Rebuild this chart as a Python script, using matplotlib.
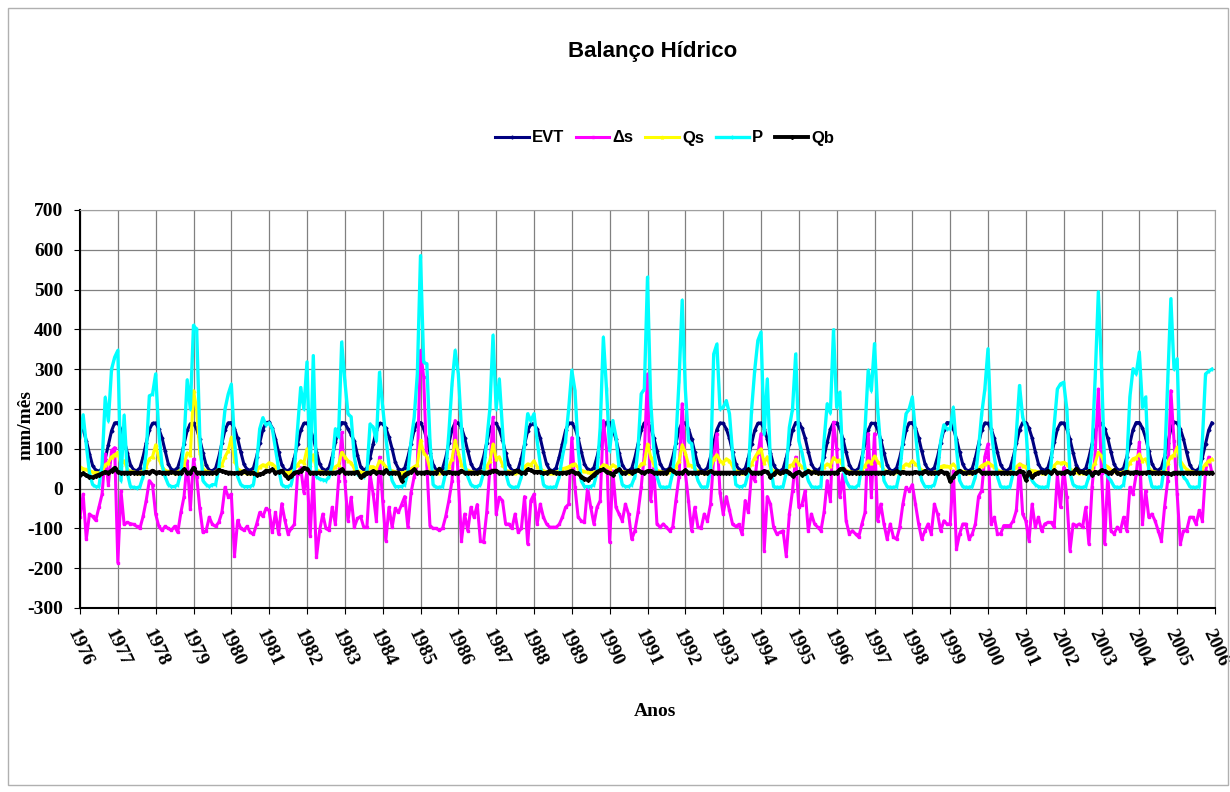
import matplotlib
matplotlib.use('Agg')
import matplotlib.pyplot as plt
from matplotlib.patches import Rectangle
import numpy as np

# valores mensais (jan..dez) de 1976 a 2005, em mm/mês
anos = list(range(1976, 2006))

evt = [
    [163, 150, 120, 88, 58, 46, 44, 50, 75, 110, 145, 165],
    [166, 148, 122, 90, 60, 47, 45, 52, 80, 115, 148, 164],
    [165, 150, 128, 95, 62, 48, 46, 53, 78, 112, 146, 163],
    [164, 149, 124, 90, 59, 46, 45, 51, 79, 114, 147, 165],
    [166, 151, 126, 92, 61, 48, 46, 52, 80, 115, 148, 166],
    [167, 152, 125, 91, 60, 47, 45, 51, 78, 112, 146, 164],
    [165, 150, 127, 93, 62, 48, 46, 53, 80, 116, 149, 166],
    [165, 150, 135, 120, 85, 55, 46, 52, 78, 112, 146, 164],
    [163, 152, 130, 100, 66, 50, 46, 52, 79, 113, 147, 165],
    [166, 151, 124, 90, 60, 47, 45, 51, 78, 114, 148, 166],
    [165, 153, 128, 94, 63, 48, 46, 53, 80, 115, 147, 164],
    [164, 149, 123, 89, 59, 46, 44, 50, 77, 111, 145, 163],
    [163, 150, 126, 92, 61, 47, 45, 52, 79, 113, 146, 164],
    [165, 152, 127, 93, 62, 48, 46, 53, 80, 116, 149, 167],
    [166, 150, 124, 90, 60, 47, 45, 51, 78, 112, 147, 165],
    [167, 153, 128, 95, 63, 49, 46, 52, 79, 114, 148, 166],
    [165, 151, 125, 91, 60, 47, 45, 52, 80, 115, 148, 165],
    [164, 150, 126, 92, 61, 48, 45, 51, 78, 113, 146, 164],
    [165, 151, 124, 90, 59, 46, 44, 50, 77, 112, 147, 166],
    [166, 152, 127, 93, 62, 48, 46, 53, 80, 116, 149, 166],
    [165, 150, 125, 91, 60, 47, 45, 51, 79, 114, 147, 164],
    [164, 149, 123, 90, 59, 46, 45, 52, 78, 112, 146, 165],
    [166, 152, 128, 94, 63, 48, 46, 53, 80, 115, 148, 166],
    [165, 151, 125, 92, 61, 47, 45, 51, 78, 113, 147, 165],
    [164, 150, 126, 91, 60, 47, 45, 52, 79, 114, 148, 166],
    [166, 152, 127, 93, 62, 48, 46, 53, 80, 116, 149, 165],
    [165, 150, 124, 90, 59, 46, 45, 51, 78, 112, 146, 164],
    [164, 151, 126, 92, 61, 48, 46, 52, 79, 114, 148, 166],
    [166, 152, 128, 94, 63, 48, 46, 53, 80, 115, 149, 167],
    [165, 150, 125, 91, 60, 47, 45, 51, 78, 113, 147, 165],
]

ds = [
    [-72, -14, -127, -64, -70, -80, -47, -14, 87, 10, 95, 103],
    [-186, -6, -90, -85, -88, -90, -95, -100, -70, -30, 20, 10],
    [-64, -95, -105, -95, -100, -105, -95, -110, -60, -20, 70, -52],
    [74, 30, -50, -110, -106, -72, -90, -95, -85, -60, 3, -20],
    [-14, -169, -80, -100, -105, -95, -110, -115, -90, -60, -70, -50],
    [-55, -110, -60, -115, -38, -80, -114, -100, -90, 36, 53, -10],
    [44, -118, 36, -173, -106, -64, -100, -105, -47, -89, 20, 141],
    [20, -81, -22, -97, -75, -70, -97, -97, 36, -14, -81, 79],
    [-30, -131, -47, -97, -50, -60, -40, -20, -97, -10, 30, 60],
    [347, 280, 60, -93, -100, -100, -105, -100, -70, -30, 20, 171],
    [20, -131, -64, -106, -47, -72, -40, -131, -135, -60, 50, 179],
    [-64, -22, -30, -89, -89, -100, -64, -110, -100, -20, -139, -30],
    [-14, -89, -39, -72, -89, -97, -97, -97, -90, -72, -47, -39],
    [128, 3, -72, -81, -85, 3, -47, -89, -47, -30, 171, 100],
    [-135, 44, -47, -64, -81, -39, -64, -127, -106, -60, 3, 87],
    [288, -30, 53, -89, -97, -89, -97, -106, -97, -30, 30, 213],
    [40, -30, -106, -47, -97, -100, -64, -81, -39, 79, 138, -10],
    [-64, -20, -55, -90, -95, -90, -115, -30, -60, 40, 20, 87],
    [138, -156, -20, -39, -97, -114, -110, -106, -169, -64, -5, 79],
    [-47, -40, -5, -106, -64, -89, -97, -106, -60, 20, -30, 167],
    [100, -22, 36, -81, -114, -106, -114, -122, -89, -60, 138, -20],
    [138, -81, -39, -89, -127, -89, -122, -127, -97, -39, 3, -5],
    [10, -39, -89, -127, -106, -89, -114, -39, -64, -106, -81, -89],
    [-89, 44, -152, -114, -89, -89, -127, -114, -89, -20, -5, 80],
    [112, -89, -72, -114, -114, -93, -93, -93, -81, -55, 61, -64],
    [-81, -131, -39, -97, -72, -106, -89, -85, -85, -97, 36, -47],
    [53, -22, -156, -89, -93, -89, -97, -47, -139, 3, 87, 250],
    [40, -139, 36, -106, -114, -97, -106, -72, -106, 3, -14, 36],
    [116, -89, -5, -72, -64, -81, -106, -131, -47, 20, 246, 120],
    [-14, -139, -106, -106, -72, -72, -89, -55, -81, 44, 79, 40],
]

qs = [
    [55, 50, 48, 45, 42, 40, 40, 42, 60, 65, 80, 85],
    [91, 60, 70, 48, 44, 42, 40, 40, 45, 55, 75, 80],
    [110, 75, 55, 46, 43, 41, 40, 42, 48, 60, 90, 85],
    [246, 200, 90, 50, 44, 42, 40, 42, 50, 60, 80, 95],
    [129, 70, 50, 45, 42, 40, 40, 41, 45, 55, 60, 58],
    [65, 62, 55, 46, 43, 41, 40, 42, 48, 60, 70, 65],
    [100, 60, 85, 48, 44, 42, 40, 42, 48, 55, 60, 91],
    [80, 70, 65, 50, 45, 42, 40, 42, 55, 55, 50, 70],
    [65, 55, 48, 45, 42, 40, 40, 41, 45, 50, 55, 60],
    [121, 90, 80, 50, 44, 42, 40, 41, 45, 55, 75, 121],
    [90, 60, 50, 46, 43, 41, 40, 42, 46, 55, 70, 112],
    [75, 80, 60, 46, 43, 41, 40, 41, 45, 55, 62, 60],
    [70, 55, 50, 45, 42, 40, 40, 41, 44, 50, 52, 55],
    [60, 62, 52, 46, 43, 41, 40, 41, 45, 52, 60, 58],
    [50, 60, 55, 47, 43, 41, 40, 41, 44, 50, 62, 65],
    [112, 80, 60, 47, 43, 41, 40, 41, 45, 55, 70, 110],
    [90, 60, 58, 50, 44, 42, 40, 41, 48, 75, 85, 70],
    [65, 75, 70, 55, 45, 42, 40, 41, 46, 62, 78, 91],
    [100, 65, 80, 52, 44, 42, 40, 41, 46, 58, 60, 74],
    [62, 55, 50, 46, 43, 41, 40, 41, 55, 62, 58, 78],
    [70, 72, 55, 46, 43, 41, 40, 42, 48, 58, 70, 65],
    [82, 68, 60, 47, 43, 41, 40, 41, 45, 55, 62, 60],
    [70, 62, 55, 46, 43, 41, 40, 41, 45, 55, 58, 56],
    [55, 62, 52, 46, 43, 41, 40, 41, 44, 50, 58, 62],
    [66, 60, 55, 47, 43, 41, 40, 41, 45, 55, 62, 58],
    [55, 48, 45, 44, 42, 40, 40, 41, 48, 58, 66, 64],
    [66, 62, 50, 45, 42, 40, 40, 41, 45, 52, 65, 91],
    [82, 60, 55, 47, 43, 41, 40, 42, 50, 65, 75, 78],
    [87, 70, 75, 52, 44, 42, 40, 41, 48, 65, 80, 85],
    [104, 70, 58, 48, 44, 42, 40, 41, 50, 62, 70, 74],
]

p = [
    [130, 185, 110, 40, 10, 5, 5, 60, 229, 170, 300, 330],
    [347, 20, 184, 40, 5, 3, 2, 5, 30, 90, 233, 237],
    [288, 140, 60, 30, 10, 5, 5, 10, 40, 120, 273, 200],
    [410, 400, 130, 20, 10, 5, 10, 10, 50, 120, 200, 237],
    [262, 120, 30, 10, 5, 5, 5, 10, 60, 150, 178, 160],
    [165, 150, 100, 50, 10, 5, 5, 10, 50, 150, 254, 200],
    [318, 40, 334, 30, 24, 22, 20, 30, 60, 150, 130, 368],
    [271, 188, 180, 80, 37, 30, 30, 40, 162, 154, 120, 292],
    [205, 130, 60, 20, 5, 5, 5, 10, 40, 120, 179, 288],
    [585, 318, 313, 120, 10, 3, 3, 5, 40, 140, 263, 347],
    [288, 150, 60, 30, 10, 5, 5, 10, 40, 120, 200, 385],
    [200, 275, 150, 40, 10, 3, 3, 5, 30, 112, 188, 170],
    [188, 120, 60, 10, 3, 3, 3, 5, 30, 80, 120, 200],
    [297, 246, 100, 20, 5, 5, 5, 10, 40, 154, 380, 250],
    [95, 171, 130, 50, 10, 5, 5, 10, 30, 100, 238, 250],
    [531, 221, 100, 30, 5, 3, 3, 5, 40, 120, 271, 473],
    [250, 120, 112, 50, 20, 5, 3, 5, 50, 338, 363, 200],
    [204, 221, 188, 87, 10, 5, 5, 10, 40, 196, 297, 372],
    [393, 137, 275, 60, 5, 3, 3, 5, 40, 154, 200, 338],
    [120, 90, 50, 20, 5, 3, 3, 5, 120, 213, 190, 399],
    [204, 242, 53, 20, 5, 3, 3, 10, 60, 150, 297, 246],
    [364, 200, 100, 20, 5, 3, 3, 5, 40, 120, 188, 200],
    [230, 140, 60, 20, 5, 5, 5, 10, 40, 120, 160, 150],
    [150, 204, 100, 20, 5, 3, 3, 5, 30, 100, 188, 250],
    [351, 150, 80, 30, 5, 3, 3, 5, 40, 140, 259, 179],
    [154, 37, 20, 10, 5, 3, 3, 5, 60, 160, 250, 263],
    [267, 200, 40, 10, 5, 3, 3, 5, 30, 100, 280, 494],
    [300, 50, 30, 20, 5, 3, 3, 10, 60, 230, 301, 288],
    [343, 204, 230, 40, 5, 3, 3, 5, 60, 271, 477, 300],
    [326, 60, 30, 20, 5, 3, 3, 5, 120, 288, 295, 300],
]

qb = [
    [35, 38, 33, 30, 28, 32, 35, 38, 42, 40, 45, 52],
    [42, 40, 40, 40, 40, 40, 40, 40, 40, 42, 40, 45],
    [40, 41, 40, 40, 40, 42, 40, 40, 40, 48, 40, 40],
    [52, 40, 40, 40, 40, 40, 40, 40, 47, 44, 42, 40],
    [40, 38, 40, 40, 44, 40, 40, 40, 35, 36, 38, 45],
    [44, 48, 40, 42, 45, 35, 26, 32, 40, 42, 44, 52],
    [50, 40, 40, 40, 40, 40, 40, 40, 40, 40, 42, 48],
    [40, 40, 40, 40, 42, 28, 35, 40, 40, 44, 40, 42],
    [40, 46, 38, 40, 40, 40, 20, 35, 40, 42, 48, 40],
    [40, 40, 42, 40, 40, 40, 50, 40, 40, 42, 40, 40],
    [40, 45, 40, 40, 40, 40, 40, 42, 40, 40, 42, 45],
    [45, 40, 40, 40, 40, 38, 44, 45, 40, 40, 48, 46],
    [42, 42, 42, 38, 40, 44, 42, 40, 38, 40, 40, 42],
    [45, 40, 38, 30, 25, 22, 28, 35, 42, 46, 48, 42],
    [40, 35, 44, 48, 40, 38, 44, 40, 45, 46, 42, 40],
    [44, 44, 40, 40, 40, 40, 40, 48, 45, 40, 40, 40],
    [46, 40, 40, 40, 40, 42, 40, 40, 44, 40, 40, 40],
    [40, 40, 40, 40, 40, 40, 42, 40, 48, 40, 40, 40],
    [40, 44, 42, 30, 36, 44, 38, 42, 45, 40, 32, 38],
    [42, 35, 40, 44, 40, 42, 40, 40, 40, 40, 40, 40],
    [40, 48, 50, 42, 40, 40, 40, 40, 40, 40, 40, 40],
    [40, 40, 40, 40, 42, 40, 40, 44, 40, 42, 40, 40],
    [40, 42, 40, 40, 44, 40, 40, 40, 40, 44, 40, 40],
    [18, 30, 40, 44, 40, 38, 42, 40, 42, 46, 40, 40],
    [40, 40, 40, 40, 40, 40, 40, 40, 40, 38, 44, 42],
    [22, 42, 28, 36, 40, 42, 40, 44, 38, 46, 40, 40],
    [40, 44, 40, 40, 50, 42, 42, 38, 44, 35, 42, 40],
    [46, 44, 40, 40, 46, 40, 36, 40, 42, 40, 40, 42],
    [40, 40, 40, 42, 40, 40, 40, 40, 40, 38, 36, 40],
    [40, 40, 40, 40, 40, 40, 40, 40, 40, 40, 40, 40],
]

# eixo do tempo: um ponto por mês
t = anos[0] + np.arange(12 * len(anos)) / 12.0

fig = plt.figure(figsize=(12.3, 7.92), dpi=100)
fig.add_artist(Rectangle((8/1230, 1-785/792), 1220/1230, 777/792, transform=fig.transFigure,
                         fill=False, edgecolor='#b0b0b0', lw=1))

ax = fig.add_axes([80/1230, 1-608/792, 1135/1230, 398/792])

series = [
    ('EVT', evt, '#000080', 'D', 2.2, 1.5),
    ('\u0394s', ds, '#FF00FF', 's', 2.2, 2.0),
    ('Qs', qs, '#FFFF00', '^', 2.2, 2.0),
    ('P', p, '#00FFFF', '|', 2.4, 2.5),
    ('Qb', qb, '#000000', 'D', 2.8, 2.0),
]
handles = []
for nome, vals, cor, mk, lw, ms in series:
    h, = ax.plot(t, np.ravel(vals), color=cor, lw=lw, marker=mk, ms=ms, mec=cor, mfc=cor, label=nome)
    handles.append(h)

ax.set_xlim(1976, 2006)
ax.set_ylim(-300, 700)
ax.set_xticks(range(1976, 2007))
ax.set_yticks(range(-300, 701, 100))
ax.grid(True, color='#808080', lw=0.9)
ax.set_axisbelow(True)

serif = {'family': ['Liberation Serif', 'DejaVu Serif'], 'weight': 'bold', 'size': 14}
ax.set_yticklabels([str(v) for v in range(-300, 701, 100)], fontdict=serif)
ax.set_xticklabels([str(a) for a in range(1976, 2007)], fontdict=serif,
                   rotation=-65, ha='center', va='top')
ax.tick_params(axis='y', length=4, pad=8)
ax.tick_params(axis='x', length=4, pad=9)

for s in ['left', 'bottom']:
    ax.spines[s].set_color('black')
    ax.spines[s].set_linewidth(1.5)
for s in ['top', 'right']:
    ax.spines[s].set_color('#a0a0a0')

fig.text(26/1230, 1-425/792, 'mm/mês', rotation=90, ha='center', va='center', fontdict=serif)
fig.text(655/1230, 1-712/792, 'Anos', ha='center', va='center', fontdict=serif)

sans = ['Liberation Sans Narrow', 'Liberation Sans', 'DejaVu Sans']
fig.text(653/1230, 1-52/792, 'Balanço Hídrico', ha='center', va='center',
         family=sans, weight='bold', size=16)

fig.legend(handles=handles, loc='center', bbox_to_anchor=(665/1230, 1-138/792), ncol=5,
           frameon=False, handlelength=2.0, handletextpad=0.2, columnspacing=0.7,
           prop={'family': sans, 'weight': 'bold', 'size': 12})

fig.savefig('out.png', dpi=100)
